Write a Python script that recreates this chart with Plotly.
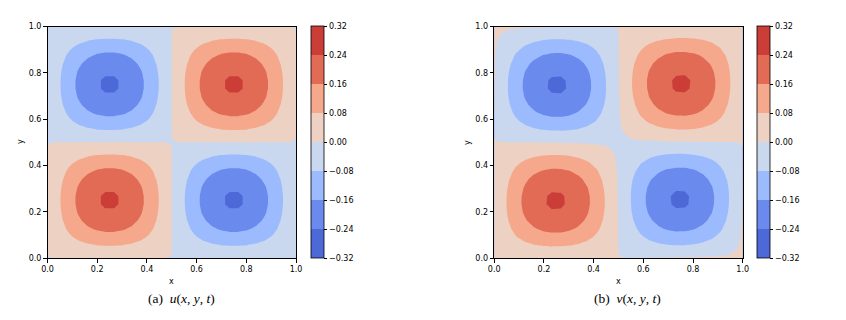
import plotly.graph_objects as go

levels = [-0.32, -0.24, -0.16, -0.08, 0.0, 0.08, 0.16, 0.24, 0.32]
level_labels = ["\u22120.32", "\u22120.24", "\u22120.16", "\u22120.08", "0.00",
                "0.08", "0.16", "0.24", "0.32"]
band_colors = ["#4d68d7", "#779af7", "#a3c2ff", "#ccd9ee",
               "#ecd3c5", "#f7b194", "#ec7f63", "#cb3e38"]
axis_ticks = [0.0, 0.2, 0.4, 0.6, 0.8, 1.0]

# sample positions (same along x and y): the walls plus 28 cell centres
grid = [0.0, 0.0179, 0.0536, 0.0893, 0.125, 0.1607, 0.1964, 0.2321, 0.2679,
        0.3036, 0.3393, 0.375, 0.4107, 0.4464, 0.4821, 0.5179, 0.5536, 0.5893,
        0.625, 0.6607, 0.6964, 0.7321, 0.7679, 0.8036, 0.8393, 0.875, 0.9107,
        0.9464, 0.9821, 1.0]
# field shape along a row through a vortex centre, at the grid positions
shape = [0.000, 0.112, 0.330, 0.532, 0.707, 0.847, 0.944, 0.994, 0.994, 0.944,
         0.847, 0.707, 0.532, 0.330, 0.112, -0.112, -0.330, -0.532, -0.707,
         -0.847, -0.944, -0.994, -0.994, -0.944, -0.847, -0.707, -0.532, -0.330,
         -0.112, 0.000]
peak = 0.249

# small drift seen in v: a bit positive at the walls, negative along the mid lines
v_bias = [0.004, 0.00398, 0.00378, 0.0034, 0.00283, 0.00213, 0.00133, 0.00045,
          -0.00045, -0.00133, -0.00213, -0.00283, -0.0034, -0.00378, -0.00398,
          -0.00398, -0.00378, -0.0034, -0.00283, -0.00213, -0.00133, -0.00045,
          0.00045, 0.00133, 0.00213, 0.00283, 0.0034, 0.00378, 0.00398, 0.004]

u = [[peak * sy * sx for sx in shape] for sy in shape]
v = [[peak * sy * sx + by + bx for sx, bx in zip(shape, v_bias)]
     for sy, by in zip(shape, v_bias)]

# plotly samples band k at (k+1)/9 of the scale
cscale = [[0, band_colors[0]]]
for k, c in enumerate(band_colors):
    cscale.append([(k + 1) / 9, c])
cscale.append([1, band_colors[-1]])

W, H = 846, 320
ML, MR, MT, MB = 30, 30, 15, 15
PW, PH = W - ML - MR, H - MT - MB


def fx(px):  # pixel from left -> paper fraction
    return (px - ML) / PW


def fy(py):  # pixel from top -> paper fraction
    return (H - MB - py) / PH


TOP, BOT = 26.5, 258
tick_font = dict(family="DejaVu Sans", size=8, color="black")


def cbar(xpix):
    return dict(x=fx(xpix), xanchor="left", y=fy(BOT), yanchor="bottom",
                len=(BOT - TOP) / PH, lenmode="fraction", thickness=13,
                thicknessmode="pixels", xpad=0, ypad=0,
                outlinewidth=0.8, outlinecolor="black",
                tickvals=levels, ticktext=level_labels, ticks="outside",
                ticklen=3.5, tickwidth=0.8, tickcolor="black", tickfont=tick_font)


def contour(z, xa, ya, xpix):
    return go.Contour(z=z, x=grid, y=grid, xaxis=xa, yaxis=ya,
                      colorscale=cscale, zmin=-0.32, zmax=0.32, autocontour=False,
                      contours=dict(start=-0.32, end=0.32, size=0.08,
                                    coloring="fill", showlines=False),
                      line=dict(width=0, smoothing=0),
                      colorbar=cbar(xpix), hoverinfo="skip")


fig = go.Figure()
fig.add_trace(contour(u, "x", "y", 311))
fig.add_trace(contour(v, "x2", "y2", 757))

ax = dict(range=[0, 1], tickvals=axis_ticks, tickformat=".1f", showline=True,
          linecolor="black", linewidth=1, mirror=True, ticks="outside",
          ticklen=3.5, tickwidth=0.8, tickcolor="black", showgrid=False,
          zeroline=False, tickfont=tick_font, automargin=False)
ydom = [fy(BOT), fy(TOP)]
fig.update_layout(
    width=W, height=H, margin=dict(l=ML, r=MR, t=MT, b=MB),
    paper_bgcolor="white", plot_bgcolor="white", showlegend=False,
    xaxis=dict(ax, domain=[fx(47.5), fx(296)], anchor="y"),
    yaxis=dict(ax, domain=ydom, anchor="x"),
    xaxis2=dict(ax, domain=[fx(494.2), fx(742.7)], anchor="y2"),
    yaxis2=dict(ax, domain=ydom, anchor="x2"),
)

small = dict(family="DejaVu Sans", size=8, color="black")
cap = dict(family="Liberation Serif", size=13.5, color="black")
notes = [
    dict(text="x", x=fx(171.7), y=fy(281), font=small),
    dict(text="x", x=fx(618.4), y=fy(281), font=small),
    dict(text="y", x=fx(20), y=fy(142), font=small, textangle=-90),
    dict(text="y", x=fx(467), y=fy(142), font=small, textangle=-90),
    dict(text="(a)\u00a0\u00a0<i>u</i>(<i>x</i>, <i>y</i>, <i>t</i>)",
         x=fx(181), y=fy(298.5), font=cap),
    dict(text="(b)\u00a0\u00a0<i>v</i>(<i>x</i>, <i>y</i>, <i>t</i>)",
         x=fx(627), y=fy(298.5), font=cap),
]
for n in notes:
    fig.add_annotation(xref="paper", yref="paper", showarrow=False,
                       xanchor="center", yanchor="middle", **n)

# the page body has a default 8px margin; drop it so pixels line up
fig.write_html("out.html", config={"displayModeBar": False},
               post_script="document.body.style.margin='0';")
